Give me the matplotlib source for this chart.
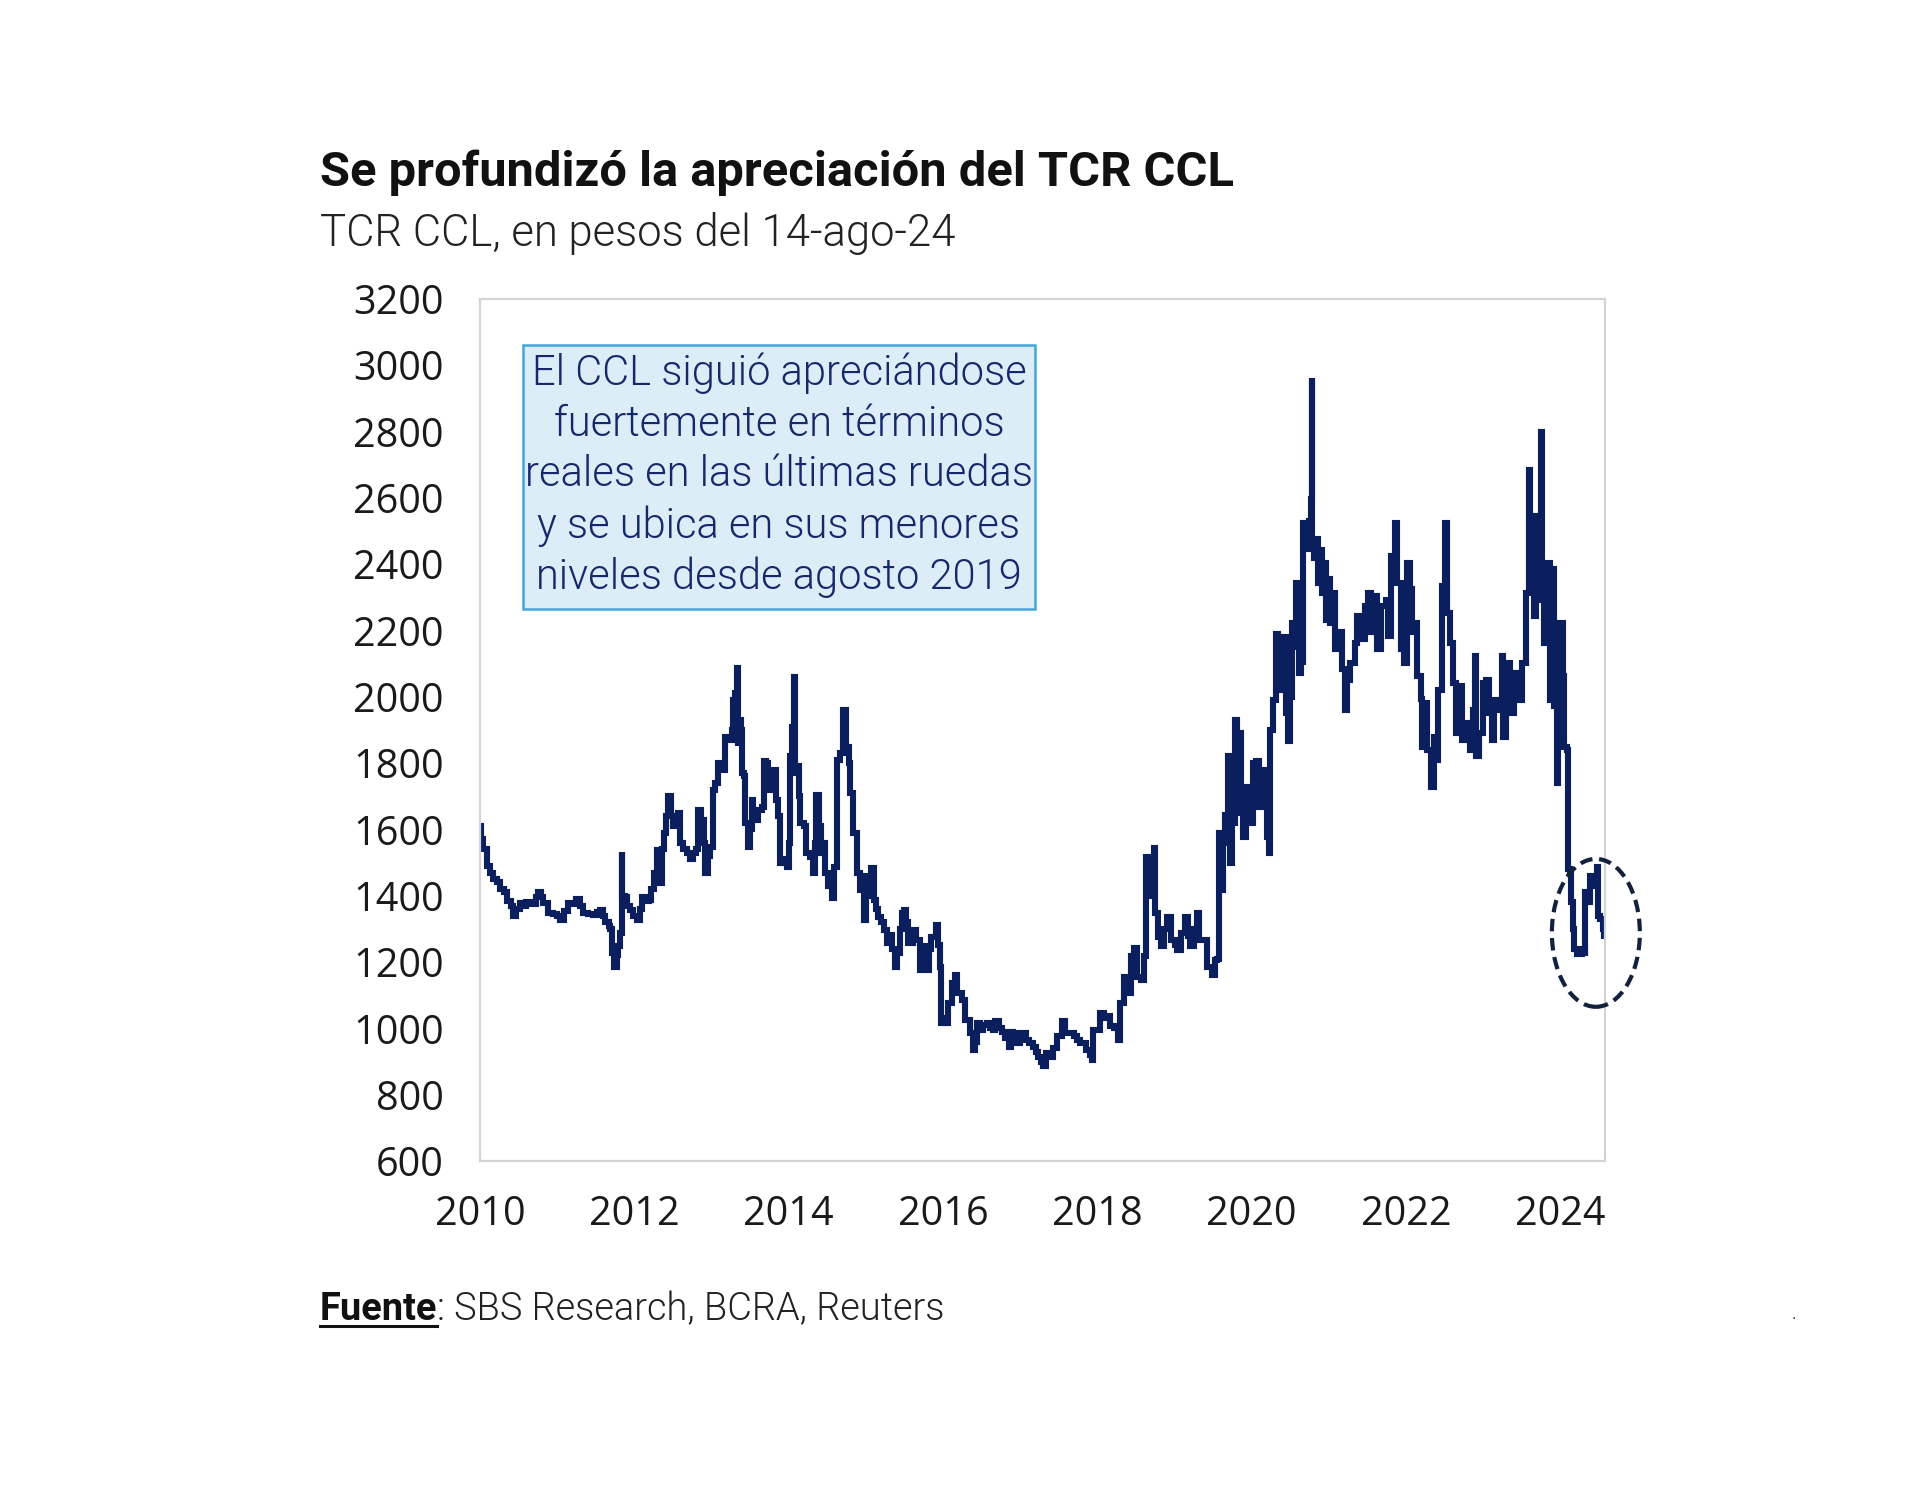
import matplotlib
matplotlib.use("Agg")
import matplotlib.pyplot as plt
from matplotlib.patches import Ellipse, Rectangle
from matplotlib.lines import Line2D

# TCR CCL (pesos del 14-ago-24); dates as decimal years
years = [
    2010.00, 2010.01, 2010.04, 2010.09, 2010.13, 2010.17, 2010.22, 2010.26, 2010.31, 2010.35,
    2010.40, 2010.43, 2010.47, 2010.52, 2010.56, 2010.60, 2010.66, 2010.72, 2010.75, 2010.79,
    2010.82, 2010.88, 2010.94, 2011.00, 2011.04, 2011.09, 2011.14, 2011.20, 2011.25, 2011.30,
    2011.34, 2011.40, 2011.46, 2011.51, 2011.56, 2011.60, 2011.62, 2011.67, 2011.69, 2011.71,
    2011.74, 2011.77, 2011.79, 2011.81, 2011.835, 2011.845, 2011.88, 2011.91, 2011.94, 2011.98,
    2012.03, 2012.07, 2012.10, 2012.15, 2012.19, 2012.22, 2012.25, 2012.29, 2012.31, 2012.33,
    2012.36, 2012.38, 2012.41, 2012.44, 2012.47, 2012.50, 2012.54, 2012.57, 2012.59, 2012.63,
    2012.68, 2012.72, 2012.76, 2012.80, 2012.83, 2012.87, 2012.90, 2012.92, 2012.95, 2012.98,
    2013.02, 2013.05, 2013.09, 2013.13, 2013.18, 2013.22, 2013.26, 2013.28, 2013.31, 2013.33,
    2013.34, 2013.36, 2013.38, 2013.39, 2013.42, 2013.44, 2013.47, 2013.50, 2013.52, 2013.54,
    2013.56, 2013.60, 2013.65, 2013.68, 2013.71, 2013.73, 2013.76, 2013.80, 2013.83, 2013.86,
    2013.89, 2013.93, 2013.98, 2014.00, 2014.02, 2014.04, 2014.07, 2014.08, 2014.11, 2014.13,
    2014.15, 2014.20, 2014.23, 2014.28, 2014.32, 2014.34, 2014.36, 2014.39, 2014.42, 2014.45,
    2014.47, 2014.51, 2014.56, 2014.59, 2014.62, 2014.66, 2014.71, 2014.74, 2014.78, 2014.80,
    2014.84, 2014.88, 2014.92, 2014.97, 2015.00, 2015.04, 2015.07, 2015.10, 2015.13, 2015.16,
    2015.20, 2015.23, 2015.27, 2015.30, 2015.34, 2015.38, 2015.40, 2015.44, 2015.47, 2015.50,
    2015.52, 2015.55, 2015.61, 2015.65, 2015.70, 2015.73, 2015.76, 2015.79, 2015.82, 2015.85,
    2015.91, 2015.94, 2015.96, 2015.97, 2016.02, 2016.05, 2016.07, 2016.11, 2016.15, 2016.18,
    2016.24, 2016.29, 2016.35, 2016.39, 2016.42, 2016.44, 2016.48, 2016.52, 2016.57, 2016.61,
    2016.65, 2016.68, 2016.72, 2016.76, 2016.80, 2016.85, 2016.88, 2016.91, 2016.96, 2017.00,
    2017.04, 2017.08, 2017.12, 2017.16, 2017.20, 2017.23, 2017.27, 2017.30, 2017.34, 2017.39,
    2017.43, 2017.48, 2017.54, 2017.58, 2017.64, 2017.70, 2017.74, 2017.78, 2017.85, 2017.90,
    2017.93, 2017.95, 2018.00, 2018.04, 2018.08, 2018.12, 2018.17, 2018.22, 2018.27, 2018.29,
    2018.34, 2018.38, 2018.43, 2018.47, 2018.51, 2018.57, 2018.60, 2018.63, 2018.66, 2018.70,
    2018.74, 2018.75, 2018.79, 2018.83, 2018.87, 2018.90, 2018.95, 2019.00, 2019.03, 2019.09,
    2019.14, 2019.17, 2019.20, 2019.25, 2019.29, 2019.32, 2019.36, 2019.42, 2019.48, 2019.52,
    2019.55, 2019.57, 2019.60, 2019.63, 2019.66, 2019.69, 2019.72, 2019.75, 2019.79, 2019.81,
    2019.83, 2019.86, 2019.89, 2019.93, 2019.98, 2020.02, 2020.06, 2020.09, 2020.13, 2020.17,
    2020.20, 2020.22, 2020.24, 2020.28, 2020.31, 2020.34, 2020.36, 2020.40, 2020.45, 2020.47,
    2020.50, 2020.52, 2020.55, 2020.57, 2020.61, 2020.64, 2020.67, 2020.70, 2020.74, 2020.77,
    2020.78, 2020.785, 2020.81, 2020.84, 2020.86, 2020.89, 2020.91, 2020.94, 2020.96, 2020.99,
    2021.02, 2021.05, 2021.08, 2021.12, 2021.17, 2021.21, 2021.23, 2021.28, 2021.34, 2021.37,
    2021.42, 2021.47, 2021.51, 2021.55, 2021.58, 2021.63, 2021.67, 2021.74, 2021.76, 2021.80,
    2021.83, 2021.86, 2021.88, 2021.93, 2021.97, 2022.01, 2022.05, 2022.08, 2022.12, 2022.14,
    2022.19, 2022.21, 2022.25, 2022.27, 2022.32, 2022.36, 2022.40, 2022.42, 2022.47, 2022.50,
    2022.53, 2022.57, 2022.61, 2022.65, 2022.69, 2022.72, 2022.76, 2022.79, 2022.83, 2022.87,
    2022.90, 2022.91, 2022.95, 2023.00, 2023.04, 2023.08, 2023.11, 2023.14, 2023.18, 2023.24,
    2023.26, 2023.30, 2023.35, 2023.40, 2023.46, 2023.50, 2023.55, 2023.56, 2023.60, 2023.61,
    2023.66, 2023.69, 2023.72, 2023.75, 2023.76, 2023.79, 2023.84, 2023.86, 2023.89, 2023.92,
    2023.95, 2023.97, 2024.00, 2024.03, 2024.05, 2024.08, 2024.095, 2024.12, 2024.135, 2024.16,
    2024.18, 2024.22, 2024.28, 2024.32, 2024.325, 2024.36, 2024.39, 2024.43, 2024.48, 2024.49,
    2024.52, 2024.55, 2024.57,
]
tcr_ccl = [
    1610, 1570, 1540, 1490, 1470, 1450, 1440, 1420, 1410, 1385,
    1370, 1340, 1360, 1378, 1370, 1382, 1375, 1395, 1412, 1395,
    1378, 1348, 1345, 1340, 1327, 1355, 1378, 1375, 1390, 1370,
    1348, 1345, 1342, 1350, 1357, 1340, 1322, 1310, 1300, 1227,
    1186, 1220, 1247, 1287, 1533, 1400, 1397, 1370, 1357, 1340,
    1327, 1360, 1397, 1385, 1387, 1420, 1468, 1538, 1480, 1437,
    1540, 1588, 1640, 1700, 1640, 1610, 1640, 1650, 1560, 1540,
    1530, 1510, 1530, 1540, 1659, 1629, 1560, 1468, 1520, 1548,
    1719, 1739, 1800, 1780, 1879, 1869, 1900, 1990, 2010, 2087,
    1860, 1930, 1900, 1770, 1760, 1620, 1548, 1600, 1689, 1640,
    1629, 1660, 1669, 1805, 1800, 1719, 1760, 1779, 1689, 1640,
    1498, 1510, 1488, 1560, 1820, 1910, 2061, 1770, 1790, 1700,
    1620, 1610, 1528, 1518, 1468, 1560, 1704, 1610, 1528, 1560,
    1468, 1428, 1392, 1488, 1810, 1830, 1960, 1850, 1800, 1709,
    1589, 1468, 1418, 1327, 1458, 1400, 1484, 1387, 1360, 1337,
    1320, 1297, 1257, 1282, 1240, 1186, 1226, 1300, 1347, 1357,
    1320, 1257, 1297, 1267, 1176, 1230, 1247, 1176, 1240, 1277,
    1312, 1250, 1186, 1016, 1030, 1016, 1076, 1136, 1161, 1106,
    1086, 1026, 986, 935, 960, 1016, 996, 1010, 1016, 1000,
    996, 1021, 1000, 990, 970, 945, 990, 986, 956, 975,
    986, 966, 955, 945, 930, 915, 900, 885, 925, 915,
    940, 976, 1021, 986, 985, 976, 966, 956, 935, 920,
    905, 996, 996, 1046, 1030, 1036, 1006, 1000, 966, 1076,
    1156, 1106, 1217, 1242, 1156, 1146, 1217, 1518, 1398, 1460,
    1544, 1347, 1277, 1247, 1300, 1337, 1267, 1250, 1237, 1287,
    1337, 1280, 1247, 1300, 1347, 1267, 1267, 1186, 1161, 1206,
    1210, 1588, 1417, 1560, 1643, 1820, 1498, 1618, 1930, 1699,
    1890, 1650, 1578, 1729, 1618, 1800, 1805, 1669, 1780, 1700,
    1578, 1528, 1900, 1990, 2190, 2100, 2020, 2180, 1950, 1867,
    2000, 2223, 2150, 2344, 2073, 2104, 2525, 2445, 2530, 2596,
    2962, 2455, 2420, 2475, 2344, 2443, 2314, 2404, 2233, 2354,
    2223, 2314, 2143, 2194, 2083, 1960, 2052, 2102, 2163, 2243,
    2173, 2273, 2313, 2194, 2303, 2143, 2273, 2293, 2183, 2424,
    2350, 2525, 2344, 2143, 2102, 2404, 2324, 2194, 2223, 2062,
    1992, 1850, 1982, 1840, 1729, 1880, 1810, 2021, 2333, 2525,
    2253, 2163, 2042, 1890, 2032, 1870, 1900, 1921, 1840, 1961,
    2123, 1820, 1890, 2042, 2052, 1950, 1870, 1991, 1961, 2122,
    1880, 2102, 1951, 2073, 1991, 2102, 2092, 2313, 2685, 2464,
    2243, 2545, 2293, 2800, 2344, 2163, 2404, 1991, 2384, 1971,
    1740, 2153, 2223, 2062, 1850, 1840, 1480, 1470, 1380, 1300,
    1240, 1225, 1240, 1218, 1411, 1380, 1460, 1430, 1487, 1340,
    1330, 1300, 1270,
]

y_ticks = [600, 800, 1000, 1200, 1400, 1600, 1800, 2000, 2200, 2400, 2600, 2800, 3000, 3200]
x_ticks = [2010, 2012, 2014, 2016, 2018, 2020, 2022, 2024]

title = "Se profundizó la apreciación del TCR CCL"
subtitle = "TCR CCL, en pesos del 14-ago-24"
note = ("El CCL siguió apreciándose\nfuertemente en términos\nreales en las últimas ruedas\n"
        "y se ubica en sus menores\nniveles desde agosto 2019")
source_bold = "Fuente"
source_rest = ": SBS Research, BCRA, Reuters"

navy = "#0b1f5e"
tick_font = "Open Sans"
text_font = "Roboto"

fig = plt.figure(figsize=(19.2, 14.85), dpi=100)
fig.patch.set_facecolor("white")
ax = fig.add_axes([0.25, 0.2182, 0.586, 0.5805])

ax.plot(years, tcr_ccl, color=navy, linewidth=4.4, drawstyle="steps-post",
        solid_joinstyle="miter", solid_capstyle="butt")

ax.set_xlim(2010, 2024.58)
ax.set_ylim(600, 3200)
ax.set_xticks(x_ticks)
ax.set_yticks(y_ticks)
ax.set_xticklabels([str(t) for t in x_ticks], fontsize=28.5, family=tick_font, color="#1a1a1a")
ax.set_yticklabels([str(t) for t in y_ticks], fontsize=28.5, family=tick_font, color="#1a1a1a")
ax.tick_params(axis="y", length=0, pad=26)
ax.tick_params(axis="x", length=0, pad=24)
for s in ax.spines.values():
    s.set_color("#d4d4d4")
    s.set_linewidth(1.6)

# dashed ellipse around the latest values
circ = Ellipse((2024.46, 1288), width=1.14, height=446, fill=False, edgecolor="#14213d",
               linestyle=(0, (3, 1.6)), linewidth=3.0, clip_on=False, zorder=5)
ax.add_patch(circ)

# annotation box
fig.patches.append(Rectangle((0.2724, 0.5899), 0.2667, 0.1778, transform=fig.transFigure,
                             facecolor="#dcedf8", edgecolor="#45a5d6", linewidth=1.8, zorder=3))
fig.text(0.4057, 0.6800, note, ha="center", va="center", fontsize=30, family=text_font,
         fontweight=300, color="#16286b", linespacing=1.3, zorder=4)

fig.text(0.1667, 0.8747, title, fontsize=35.2, fontweight="bold", family=text_font,
         color="#111111", va="baseline")
fig.text(0.1667, 0.8343, subtitle, fontsize=31.4, fontweight=300, family=text_font,
         color="#222222", va="baseline")

# source line with underlined bold "Fuente"
t1 = fig.text(0.1667, 0.1111, source_bold, fontsize=27.4, fontweight="bold", family=text_font,
              color="#111111", va="baseline")
fig.canvas.draw()
bb = t1.get_window_extent()
x1 = bb.x1 / fig.bbox.width
fig.text(x1, 0.1111, source_rest, fontsize=27.4, fontweight=300, family=text_font,
         color="#222222", va="baseline")
uy = 0.1111 - 6 / fig.bbox.height
fig.lines.append(Line2D([0.1667, x1], [uy, uy], transform=fig.transFigure, color="#111111",
                        linewidth=2.2))
fig.text(0.933, 0.112, ".", fontsize=10, color="#333333")

fig.savefig("out.png", dpi=100, facecolor="white")
